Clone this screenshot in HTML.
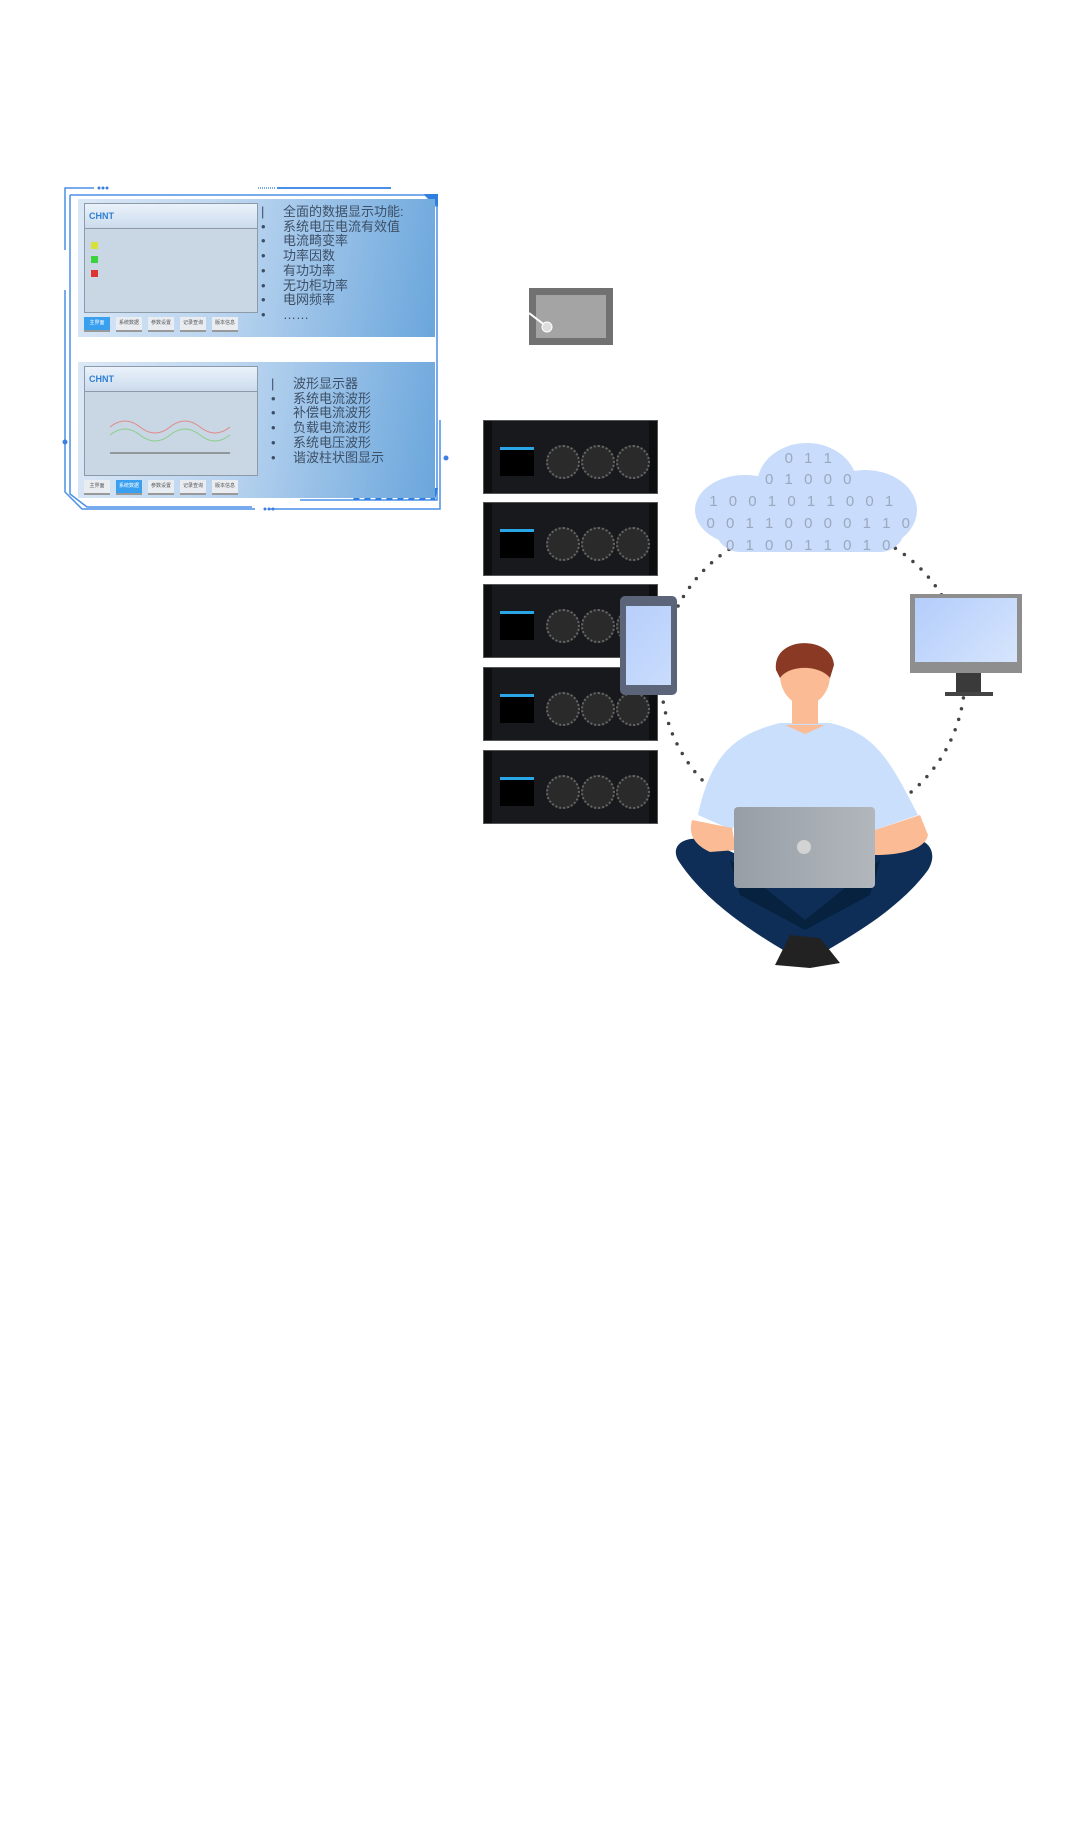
<!DOCTYPE html>
<html><head><meta charset="utf-8"><style>
body{margin:0;width:1080px;height:1845px;background:#fff;position:relative;overflow:hidden;font-family:"Liberation Sans","Noto Sans CJK SC",sans-serif}
.abs{position:absolute}
.panel{position:absolute;left:78px;width:357px;background:linear-gradient(100deg,#dbe8f6 0%,#b8d3ef 45%,#6aa6dc 100%)}
.scr{position:absolute;left:6px;top:4px;width:172px;background:#c9d6e3;border:1px solid #8d9aa7}
.scr .hd{height:24px;background:linear-gradient(#eaf2fb,#cbdbec);border-bottom:1px solid #8d9aa7;font-weight:bold;color:#2f7fd3;font-size:9px;line-height:24px;padding-left:4px}
.txt{position:absolute;color:#3d4f66;font-size:13px;line-height:14.7px}
.btns{position:absolute;display:flex;gap:6px}
.btns span{width:26px;height:13px;background:#e9edf1;border-bottom:2px solid #999;font-size:5px;text-align:center;line-height:13px;color:#555}
.btns span.on{background:#39a0f0;color:#fff}
.rack{position:absolute;left:483px;width:175px;height:74px;background:#17191d;border:1px solid #555;box-sizing:border-box}
.rack .ear{position:absolute;top:0;width:8px;height:100%;background:#0d0e10}
.rack .lcd{position:absolute;left:16px;top:26px;width:34px;height:26px;background:#000;border-top:3px solid #2aa6e6}
.rack .fan{position:absolute;top:24px;width:30px;height:30px;border-radius:50%;border:2px dotted #666;background:#2a2a2a}
</style></head><body>

<svg class="abs" style="left:0;top:0" width="1080" height="600">
<g fill="none" stroke="#4a8fe8" stroke-width="1.5">
<path d="M65 250 L65 188 L94 188"/>
<path d="M258 188 L275 188" stroke-dasharray="1 1"/>
<path d="M277 188 L391 188" stroke-width="2"/>
<path d="M70 195 L70 494 L87 507 L252 507"/>
<path d="M65 290 L65 492 L82 509 L255 509"/>
<path d="M268 509 L440 509 L440 420"/>
<path d="M70 195 L425 195 L437 207 L437 500 L300 500"/>
</g>
<circle cx="65" cy="442" r="2.5" fill="#3b7fe0"/><circle cx="446" cy="458" r="2.5" fill="#3b7fe0"/>
<circle cx="99" cy="188" r="1.5" fill="#3b7fe0"/><circle cx="103" cy="188" r="1.5" fill="#3b7fe0"/><circle cx="107" cy="188" r="1.5" fill="#3b7fe0"/>
<circle cx="265" cy="509" r="1.5" fill="#3b7fe0"/><circle cx="269" cy="509" r="1.5" fill="#3b7fe0"/><circle cx="273" cy="509" r="1.5" fill="#3b7fe0"/>
<path d="M424 194 L438 194 L438 207 Z" fill="#2f7fe0"/>
<g fill="#2f7fe0"><path d="M357 488h6l-4 12h-6z"/><path d="M368 488h6l-4 12h-6z"/><path d="M379 488h6l-4 12h-6z"/><path d="M390 488h6l-4 12h-6z"/><path d="M401 488h6l-4 12h-6z"/><path d="M412 488h6l-4 12h-6z"/><path d="M423 488h6l-4 12h-6z"/><path d="M434 488h4l-3 12h-5z"/></g>
</svg>

<div class="panel" style="top:199px;height:138px">
 <div class="scr" style="height:108px"><div class="hd">CHNT</div>
  <div style="position:absolute;left:6px;top:38px;width:7px;height:7px;background:#d8e03a"></div>
  <div style="position:absolute;left:6px;top:52px;width:7px;height:7px;background:#3bd33b"></div>
  <div style="position:absolute;left:6px;top:66px;width:7px;height:7px;background:#d33"></div>
 </div>
 <div class="btns" style="left:6px;top:118px"><span class="on">主界面</span><span>系统数据</span><span>参数设置</span><span>记录查询</span><span>版本信息</span></div>
 <div class="txt" style="left:183px;top:6px">|<br>•<br>•<br>•<br>•<br>•<br>•<br>•</div>
 <div class="txt" style="left:205px;top:6px">全面的数据显示功能:<br>系统电压电流有效值<br>电流畸变率<br>功率因数<br>有功功率<br>无功柜功率<br>电网频率<br>……</div>
</div>

<div class="panel" style="top:362px;height:136px">
 <div class="scr" style="height:108px"><div class="hd">CHNT</div>
  <svg style="position:absolute;left:25px;top:48px" width="120" height="40"><path d="M0 12 Q15 0 30 12 T60 12 T90 12 T120 12" stroke="#e08a8a" fill="none"/><path d="M0 20 Q15 8 30 20 T60 20 T90 20 T120 20" stroke="#8ad08a" fill="none"/><path d="M0 38 H120" stroke="#555"/></svg>
 </div>
 <div class="btns" style="left:6px;top:118px"><span>主界面</span><span class="on">系统数据</span><span>参数设置</span><span>记录查询</span><span>版本信息</span></div>
 <div class="txt" style="left:193px;top:15px">|<br>•<br>•<br>•<br>•<br>•</div>
 <div class="txt" style="left:215px;top:15px">波形显示器<br>系统电流波形<br>补偿电流波形<br>负载电流波形<br>系统电压波形<br>谐波柱状图显示</div>
</div>

<div class="abs" style="left:529px;top:288px;width:84px;height:57px;background:#717171"></div>
<div class="abs" style="left:536px;top:295px;width:70px;height:43px;background:#a4a4a4"></div>
<svg class="abs" style="left:529px;top:310px" width="30" height="30"><path d="M0 3 L17 16" stroke="#fff" stroke-width="2"/><circle cx="18" cy="17" r="5" fill="#ddd" stroke="#fff"/></svg>

<svg class="abs" style="left:0;top:0" width="1080" height="1000"><circle cx="813" cy="676" r="152" fill="none" stroke="#444" stroke-width="3.5" stroke-linecap="round" stroke-dasharray="0 11"/></svg>

<div class="rack" style="top:420px"><div class="ear" style="left:0"></div><div class="ear" style="right:0"></div><div class="lcd"></div><div class="fan" style="left:62px"></div><div class="fan" style="left:97px"></div><div class="fan" style="left:132px"></div></div>
<div class="rack" style="top:502px"><div class="ear" style="left:0"></div><div class="ear" style="right:0"></div><div class="lcd"></div><div class="fan" style="left:62px"></div><div class="fan" style="left:97px"></div><div class="fan" style="left:132px"></div></div>
<div class="rack" style="top:584px"><div class="ear" style="left:0"></div><div class="ear" style="right:0"></div><div class="lcd"></div><div class="fan" style="left:62px"></div><div class="fan" style="left:97px"></div><div class="fan" style="left:132px"></div></div>
<div class="rack" style="top:667px"><div class="ear" style="left:0"></div><div class="ear" style="right:0"></div><div class="lcd"></div><div class="fan" style="left:62px"></div><div class="fan" style="left:97px"></div><div class="fan" style="left:132px"></div></div>
<div class="rack" style="top:750px"><div class="ear" style="left:0"></div><div class="ear" style="right:0"></div><div class="lcd"></div><div class="fan" style="left:62px"></div><div class="fan" style="left:97px"></div><div class="fan" style="left:132px"></div></div>

<svg class="abs" style="left:695px;top:440px" width="230" height="120">
<g fill="#c9dcfb"><ellipse cx="50" cy="70" rx="50" ry="35"/><ellipse cx="112" cy="45" rx="50" ry="42"/><ellipse cx="170" cy="70" rx="52" ry="40"/><rect x="20" y="60" width="190" height="52" rx="25"/></g>
<g font-family="Liberation Sans,sans-serif" font-size="15" fill="#9aa9bd" text-anchor="middle">
<text x="115" y="23" letter-spacing="3.5">0 1 1</text>
<text x="115" y="44" letter-spacing="3.5">0 1 0 0 0</text>
<text x="108" y="66" letter-spacing="3.5">1 0 0 1 0 1 1 0 0 1</text>
<text x="115" y="88" letter-spacing="3.5">0 0 1 1 0 0 0 0 1 1 0</text>
<text x="115" y="110" letter-spacing="3.5">0 1 0 0 1 1 0 1 0</text></g>
</svg>

<div class="abs" style="left:620px;top:596px;width:57px;height:99px;background:#5b6478;border-radius:5px"></div>
<div class="abs" style="left:626px;top:606px;width:45px;height:79px;background:linear-gradient(135deg,#b7cffb,#c9dcfc)"></div>

<div class="abs" style="left:910px;top:594px;width:112px;height:79px;background:#8e8e8e"></div>
<div class="abs" style="left:915px;top:598px;width:102px;height:64px;background:linear-gradient(135deg,#b3cdfb,#d6e5fc)"></div>
<div class="abs" style="left:956px;top:673px;width:25px;height:19px;background:#3a3a3a"></div>
<div class="abs" style="left:945px;top:692px;width:48px;height:4px;background:#444"></div>

<svg class="abs" style="left:670px;top:630px" width="270" height="340">
<path d="M8 230 C0 215 15 205 35 210 L135 255 L235 210 C255 205 270 220 258 240 C225 285 165 315 135 333 C105 315 40 280 8 230Z" fill="#0e2e57"/>
<path d="M60 230 L135 290 L210 230 L200 265 L135 300 L70 265Z" fill="#06223f"/>
<path d="M105 335 L120 305 L150 308 L170 333 L140 338Z" fill="#222"/>
<path d="M28 185 C40 130 60 105 110 93 L160 93 C205 103 220 130 248 185 L205 200 L200 185 L70 185 L62 200Z" fill="#cadffc"/>
<path d="M22 190 L62 198 L66 220 L40 222 C25 215 18 205 22 190Z M250 185 L258 205 C255 220 230 225 205 225 L205 200Z" fill="#fbbb94"/>
<rect x="122" y="70" width="26" height="24" fill="#fbbb94"/>
<path d="M115 95 L135 104 L155 95Z" fill="#fbbb94"/>
<ellipse cx="135" cy="45" rx="25" ry="30" fill="#fbbb94"/>
<path d="M106 40 C102 5 162 5 164 35 L160 48 C150 35 120 34 110 48Z" fill="#8a3a24"/>
<defs><linearGradient id="lg" x1="0" x2="1"><stop offset="0" stop-color="#979ea6"/><stop offset="1" stop-color="#b2b7bc"/></linearGradient></defs>
<rect x="64" y="177" width="141" height="81" rx="4" fill="url(#lg)"/>
<circle cx="134" cy="217" r="7" fill="#d3d3d3"/>
</svg>

</body></html>
